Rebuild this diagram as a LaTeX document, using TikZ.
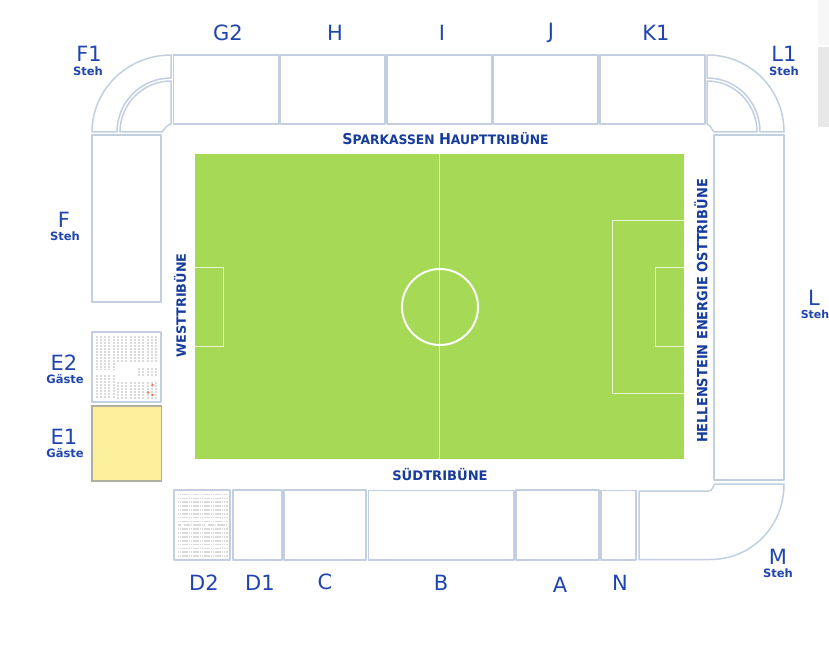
\documentclass[tikz,border=0pt]{standalone}
\usepackage{fontspec}
\setmainfont{DejaVu Sans}
\definecolor{seat}{HTML}{C2CFE0}
\definecolor{txt}{HTML}{2045B0}
\definecolor{title}{HTML}{173C9C}
\definecolor{pitch}{HTML}{A6D955}
\definecolor{guest}{HTML}{FCF09D}
\definecolor{guestb}{HTML}{B0B0A2}
\definecolor{chair}{HTML}{DADADA}
\tikzset{
  block/.style={draw=seat,line width=1.5pt,line join=round,fill=white},
  mark line/.style={draw=white!75!pitch,line width=1pt},
  big/.style={text=txt,font=\fontsize{21}{21}\selectfont,inner sep=0pt,anchor=center},
  small/.style={text=txt,font=\fontsize{11.5}{12}\selectfont\bfseries,inner sep=0pt,anchor=center},
  stand/.style={text=title,inner sep=0pt,anchor=center,font=\bfseries},
  seatcol/.style={draw=chair,line width=2pt,dash pattern=on 2pt off 1pt},
  chairrow/.style={draw=chair,line width=1.7pt,dash pattern=on 1.7pt off 0.5pt},
}
\begin{document}
\begin{tikzpicture}[x=1pt,y=-1pt]
\useasboundingbox (0,0) rectangle (829,647);
\fill[white] (0,0) rectangle (829,647);
\fill[black!3] (818,0) rectangle (829,45);
\fill[black!9] (818,47) rectangle (829,127);
% top blocks
\draw[block] (173.5,55) rectangle (279,124);
\draw[block] (280.5,55) rectangle (385,124);
\draw[block] (387,55) rectangle (492,124);
\draw[block] (493.5,55) rectangle (598,124);
\draw[block] (600,55) rectangle (705,124);
% NW corner
\draw[block] (171,55) .. controls (127,55) and (92,90) .. (92,132) -- (117,132) .. controls (117,102) and (141,78) .. (171,78) -- cycle;
\draw[block] (171,81) .. controls (143,81) and (120,104) .. (120,132) -- (162,132) .. controls (165,129) and (166,125) .. (171,124) -- cycle;
% NE corner
\draw[block] (707,55) .. controls (751,55) and (784,90) .. (784,132) -- (760,132) .. controls (760,102) and (737,78) .. (707,78) -- cycle;
\draw[block] (707,81) .. controls (735,81) and (757,104) .. (757,132) -- (714,132) .. controls (711,129) and (711,125) .. (707,124) -- cycle;
% sides
\draw[block] (92,135) rectangle (161,302);
\draw[block] (714,135) rectangle (784,480);
\draw[block] (92,332) rectangle (161,402);
\draw[draw=guestb,fill=guest,line width=1.5pt] (92,406) rectangle (161.5,481);
% bottom
\draw[block] (174,490) rectangle (230,560);
\draw[block] (233,490) rectangle (282,560);
\draw[block] (284,490) rectangle (366,560);
\draw[block] (368.5,490.5) rectangle (514,560);
\draw[block] (516,490) rectangle (599,560);
\draw[block] (601,490.5) rectangle (636,560);
\draw[block] (639,491) -- (708,491) .. controls (713,491) and (713,486) .. (714.5,484) -- (784,484) .. controls (784,526) and (752,559.5) .. (710,559.5) -- (639,559.5) -- cycle;
% E2 seats
\foreach \c in {0,...,14}{
  \pgfmathsetmacro{\xx}{96.5+\c*4.27}
  \ifnum\c<5
    \draw[seatcol] (\xx,335.5) -- (\xx,369);
    \draw[seatcol] (\xx,375) -- (\xx,398.5);
  \else
    \draw[seatcol] (\xx,335.5) -- (\xx,362);
    \draw[seatcol] (\xx,382) -- (\xx,398.5);
  \fi
  \ifnum\c>9
    \draw[seatcol] (\xx,368) -- (\xx,377);
  \fi
}
\fill[red!60!orange!70] (152.5,385) circle (1.4) (148,392.5) circle (1.4) (152.5,395) circle (1.4);
% D2 seats
\foreach \r in {0,...,16}{
  \ifnum\r=8
    \draw[chairrow] (178,{494.5+\r*3.85}) -- (181,{494.5+\r*3.85});
    \draw[chairrow] (184,{494.5+\r*3.85}) -- (205,{494.5+\r*3.85});
    \draw[chairrow] (208,{494.5+\r*3.85}) -- (227.5,{494.5+\r*3.85});
  \else
    \draw[chairrow] (177.5,{494.5+\r*3.85}) -- (227.5,{494.5+\r*3.85});
  \fi
}
% pitch
\fill[pitch] (195,154) rectangle (684,459);
\draw[mark line] (439.5,154) -- (439.5,459);
\draw[draw=white,line width=2pt] (440,307) circle (38);
\draw[mark line] (195,267) -- (223,267) -- (223,346) -- (195,346);
\draw[mark line] (684,267) -- (655,267) -- (655,346) -- (684,346);
\draw[mark line] (684,220) -- (612,220) -- (612,393) -- (684,393);
% stand names
\node[stand] (haupt) at (445.5,138.5) {\scalebox{0.95}[1]{\fontsize{15}{15}\selectfont S\fontsize{13}{13}\selectfont PARKASSEN \fontsize{15}{15}\selectfont H\fontsize{13}{13}\selectfont AUPTTRIBÜNE}};
\node[stand,rotate=90] (west) at (180,305.5) {\fontsize{12.8}{13}\selectfont WESTTRIBÜNE};
\node[stand] (sued) at (440,474.5) {\fontsize{13.1}{13}\selectfont SÜDTRIBÜNE};
\node[stand,rotate=90] (ost) at (701,311) {\scalebox{0.92}[1]{\fontsize{14.1}{14}\selectfont HELLENSTEIN ENERGIE OSTTRIBÜNE}};
% labels
\node[big] (lG) at (228,33) {G2};
\node[big] (lH) at (335,33) {H};
\node[big] (lI) at (442,33) {I};
\node[big] (lJ) at (551,33) {J};
\node[big] (lK) at (656,33) {K1};
\node[big] (lF1) at (89,54) {F1};
\node[small] (sF1) at (88,71) {Steh};
\node[big] (lL1) at (784,54) {L1};
\node[small] (sL1) at (784,71) {Steh};
\node[big] (lF) at (64,220) {F};
\node[small] (sF) at (65,236) {Steh};
\node[big] (lL) at (814,298) {L};
\node[small] (sL) at (815,314.5) {\fontsize{11}{12}\selectfont Steh};
\node[big] (lE2) at (64,363) {E2};
\node[small] (sE2) at (65,379) {Gäste};
\node[big] (lE1) at (64,437) {E1};
\node[small] (sE1) at (65,453) {Gäste};
\node[big] (lD2) at (204,583) {D2};
\node[big] (lD1) at (260,583) {D1};
\node[big] (lC) at (325,582) {C};
\node[big] (lB) at (441,583) {B};
\node[big] (lA) at (560,585) {A};
\node[big] (lN) at (620,583) {N};
\node[big] (lM) at (778,557) {M};
\node[small] (sM) at (778,573) {Steh};
\end{tikzpicture}
\end{document}
